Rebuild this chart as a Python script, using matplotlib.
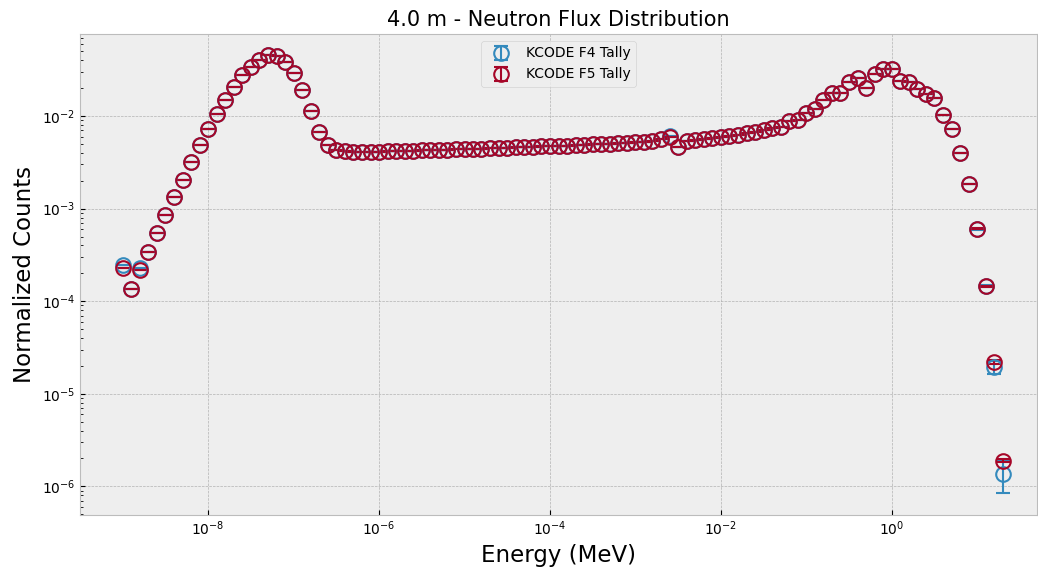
import matplotlib
matplotlib.use("Agg")
import matplotlib.pyplot as plt
from matplotlib.ticker import NullFormatter

plt.style.use("bmh")
plt.rcParams['font.family'] = ['DejaVu Sans']

energy = [
    1.00e-9, 1.26e-9, 1.58e-9, 2.00e-9, 2.51e-9, 3.16e-9, 3.98e-9, 5.01e-9, 6.31e-9, 7.94e-9,
    1.00e-8, 1.26e-8, 1.58e-8, 2.00e-8, 2.51e-8, 3.16e-8, 3.98e-8, 5.01e-8, 6.31e-8, 7.94e-8,
    1.00e-7, 1.26e-7, 1.58e-7, 2.00e-7, 2.51e-7, 3.16e-7, 3.98e-7, 5.01e-7, 6.31e-7, 7.94e-7,
    1.00e-6, 1.26e-6, 1.58e-6, 2.00e-6, 2.51e-6, 3.16e-6, 3.98e-6, 5.01e-6, 6.31e-6, 7.94e-6,
    1.00e-5, 1.26e-5, 1.58e-5, 2.00e-5, 2.51e-5, 3.16e-5, 3.98e-5, 5.01e-5, 6.31e-5, 7.94e-5,
    1.00e-4, 1.26e-4, 1.58e-4, 2.00e-4, 2.51e-4, 3.16e-4, 3.98e-4, 5.01e-4, 6.31e-4, 7.94e-4,
    1.00e-3, 1.26e-3, 1.58e-3, 2.00e-3, 2.51e-3, 3.16e-3, 3.98e-3, 5.01e-3, 6.31e-3, 7.94e-3,
    1.00e-2, 1.26e-2, 1.58e-2, 2.00e-2, 2.51e-2, 3.16e-2, 3.98e-2, 5.01e-2, 6.31e-2, 7.94e-2,
    1.00e-1, 1.26e-1, 1.58e-1, 2.00e-1, 2.51e-1, 3.16e-1, 3.98e-1, 5.01e-1, 6.31e-1, 7.94e-1,
    1.00e0, 1.26e0, 1.58e0, 2.00e0, 2.51e0, 3.16e0, 3.98e0, 5.01e0, 6.31e0, 7.94e0,
    1.00e1, 1.26e1, 1.58e1, 2.00e1,
]

f5_counts = [
    2.30e-4, 1.34e-4, 2.20e-4, 3.40e-4, 5.40e-4, 8.60e-4, 1.35e-3, 2.05e-3, 3.20e-3, 4.85e-3,
    7.20e-3, 1.06e-2, 1.49e-2, 2.04e-2, 2.77e-2, 3.41e-2, 4.06e-2, 4.53e-2, 4.42e-2, 3.81e-2,
    2.94e-2, 1.92e-2, 1.14e-2, 6.80e-3, 4.90e-3, 4.30e-3, 4.15e-3, 4.10e-3, 4.10e-3, 4.10e-3,
    4.10e-3, 4.15e-3, 4.15e-3, 4.20e-3, 4.20e-3, 4.25e-3, 4.30e-3, 4.30e-3, 4.35e-3, 4.40e-3,
    4.40e-3, 4.45e-3, 4.45e-3, 4.50e-3, 4.50e-3, 4.55e-3, 4.60e-3, 4.60e-3, 4.65e-3, 4.70e-3,
    4.70e-3, 4.75e-3, 4.80e-3, 4.85e-3, 4.90e-3, 4.95e-3, 5.00e-3, 5.05e-3, 5.10e-3, 5.15e-3,
    5.20e-3, 5.30e-3, 5.40e-3, 5.60e-3, 5.90e-3, 4.60e-3, 5.40e-3, 5.50e-3, 5.65e-3, 5.80e-3,
    5.95e-3, 6.10e-3, 6.30e-3, 6.50e-3, 6.75e-3, 7.05e-3, 7.36e-3, 7.55e-3, 8.90e-3, 9.05e-3,
    1.07e-2, 1.19e-2, 1.49e-2, 1.76e-2, 1.79e-2, 2.35e-2, 2.60e-2, 1.99e-2, 2.83e-2, 3.22e-2,
    3.22e-2, 2.39e-2, 2.35e-2, 1.95e-2, 1.72e-2, 1.55e-2, 1.04e-2, 7.18e-3, 3.95e-3, 1.83e-3,
    6.10e-4, 1.45e-4, 2.21e-5, 1.88e-6,
]

f4_counts = [
    2.45e-4, 1.34e-4, 2.30e-4, 3.40e-4, 5.40e-4, 8.60e-4, 1.35e-3, 2.05e-3, 3.20e-3, 4.85e-3,
    7.20e-3, 1.06e-2, 1.49e-2, 2.04e-2, 2.77e-2, 3.41e-2, 4.06e-2, 4.53e-2, 4.42e-2, 3.81e-2,
    2.94e-2, 1.92e-2, 1.14e-2, 6.80e-3, 4.90e-3, 4.30e-3, 4.15e-3, 4.10e-3, 4.10e-3, 4.10e-3,
    4.10e-3, 4.15e-3, 4.15e-3, 4.20e-3, 4.20e-3, 4.25e-3, 4.30e-3, 4.30e-3, 4.35e-3, 4.40e-3,
    4.40e-3, 4.45e-3, 4.45e-3, 4.50e-3, 4.50e-3, 4.55e-3, 4.60e-3, 4.60e-3, 4.65e-3, 4.70e-3,
    4.70e-3, 4.75e-3, 4.80e-3, 4.85e-3, 4.90e-3, 4.95e-3, 5.00e-3, 5.05e-3, 5.10e-3, 5.15e-3,
    5.20e-3, 5.30e-3, 5.40e-3, 5.60e-3, 6.10e-3, 4.60e-3, 5.40e-3, 5.50e-3, 5.65e-3, 5.80e-3,
    5.95e-3, 6.10e-3, 6.30e-3, 6.50e-3, 6.75e-3, 7.05e-3, 7.36e-3, 7.55e-3, 8.90e-3, 9.05e-3,
    1.07e-2, 1.19e-2, 1.49e-2, 1.76e-2, 1.79e-2, 2.35e-2, 2.60e-2, 1.99e-2, 2.83e-2, 3.22e-2,
    3.22e-2, 2.39e-2, 2.35e-2, 1.95e-2, 1.72e-2, 1.55e-2, 1.04e-2, 7.18e-3, 3.95e-3, 1.83e-3,
    6.00e-4, 1.45e-4, 1.95e-5, 1.35e-6,
]

# absolute errors (only the highest-energy bins are visibly non-zero)
f4_err = [0.0] * 100 + [1.0e-5, 4.0e-6, 3.0e-6, 5.1e-7]
f5_err = [0.0] * 100 + [5.0e-6, 1.0e-6, 1.0e-6, 7.0e-8]

title = "4.0 m - Neutron Flux Distribution"
xlabel = "Energy (MeV)"
ylabel = "Normalized Counts"
labels = ["KCODE F4 Tally", "KCODE F5 Tally"]

fig = plt.figure(figsize=(10.38, 5.67), dpi=100)
ax = fig.add_axes([80/1038, 52/567, (1037-80)/1038, (515-34)/567])

style = dict(fmt='o', mfc='none', ms=10.5, mew=1.5, capsize=5, capthick=2, elinewidth=1.5)
ax.errorbar(energy, f4_counts, yerr=f4_err, color='#348ABD', label=labels[0], **style)
ax.errorbar(energy, f5_counts, yerr=f5_err, color='#A60628', label=labels[1], **style)

ax.set_xscale('log')
ax.set_yscale('log')
ax.set_xlim(10**-9.5, 10**1.7)
ax.set_ylim(10**-6.31, 10**-1.113)
ax.xaxis.set_minor_formatter(NullFormatter())
ax.yaxis.set_minor_formatter(NullFormatter())
ax.set_title(title, fontsize=15)
ax.set_xlabel(xlabel, fontsize=16.5)
ax.set_ylabel(ylabel, fontsize=16.5)
ax.legend(loc='upper center', fontsize=10)

fig.savefig("out.png", dpi=100)
